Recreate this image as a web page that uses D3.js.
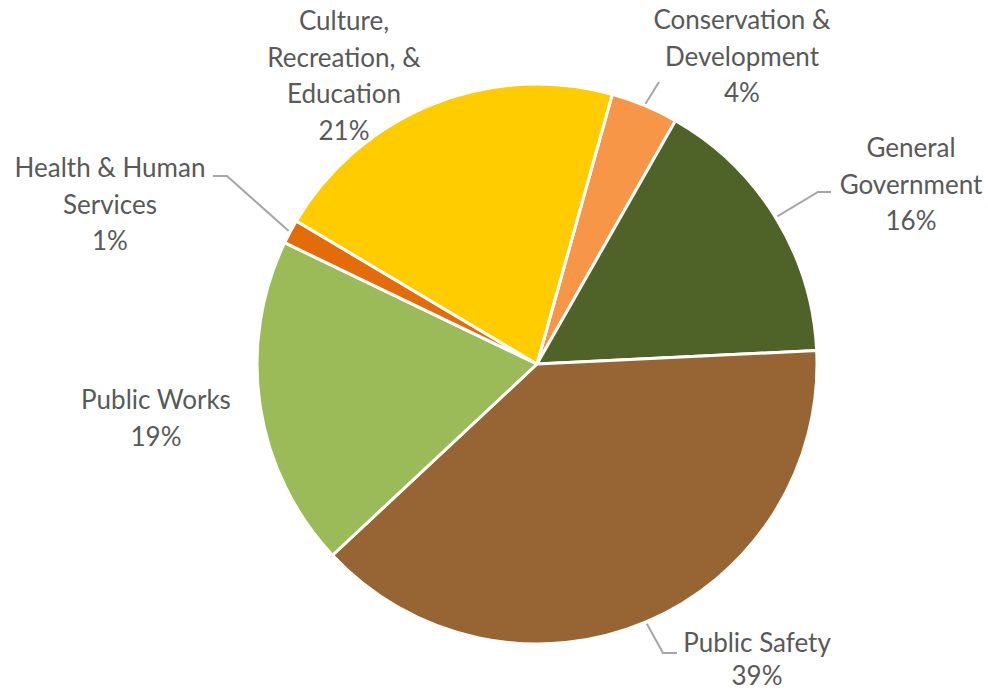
<!DOCTYPE html>
<html>
<head>
<meta charset="utf-8">
<script src="https://cdn.jsdelivr.net/npm/d3@7"></script>
<style>
  body { margin: 0; background: #fff; }
  svg { display: block; }
  .lbl { font-family: Lato, "Open Sans", sans-serif; fill: #595959; }
</style>
</head>
<body>
<div id="chart"></div>
<script>
// slices, clockwise from the Conservation slice
var categories = ['Conservation & Development', 'General Government', 'Public Safety',
                  'Public Works', 'Health & Human Services', 'Culture, Recreation, & Education'];
var values = [3.9, 16.0, 38.8, 19.1, 1.4, 20.8];
var labelLines = [
  ['Conservation &', 'Development'],
  ['General', 'Government'],
  ['Public Safety'],
  ['Public Works'],
  ['Health & Human', 'Services'],
  ['Culture,', 'Recreation, &', 'Education']
];
var colors = ['#F79646', '#4F6228', '#976434', '#9BBB59', '#E36C09', '#FFCC00'];

var width = 988,
    height = 693,
    cx = 537,
    cy = 364,
    radius = 280,
    startDeg = 15.6,
    lineStep = 36.5,
    fontSize = 26;

// label placement: centre x, first line y, leader elbow/end (null = no leader)
var labelLayout = [
  { x: 742, y: 20,  step: lineStep, leader: [[659, 82]] },
  { x: 911, y: 148, step: lineStep, leader: [[818, 192], [831, 192]] },
  { x: 757, y: 643, step: 33, leader: [[663, 653], [677, 653]] },
  { x: 156, y: 400, step: lineStep, leader: null },
  { x: 110, y: 168, step: lineStep, leader: [[227, 176], [213, 176]] },
  { x: 344, y: 21,  step: lineStep, leader: null }
];

var total = d3.sum(values);

var svg = d3.select('#chart').append('svg')
  .attr('width', width)
  .attr('height', height);

var pie = d3.pie()
  .sort(null)
  .value(function(d) { return d; })
  .startAngle(startDeg * Math.PI / 180)
  .endAngle(startDeg * Math.PI / 180 + 2 * Math.PI);

var arc = d3.arc().innerRadius(0).outerRadius(radius);

var arcs = pie(values);

var g = svg.append('g').attr('transform', 'translate(' + cx + ',' + cy + ')');

g.selectAll('path')
  .data(arcs)
  .enter()
  .append('path')
  .attr('d', arc)
  .attr('fill', function(d, i) { return colors[i]; })
  .attr('stroke', '#fff')
  .attr('stroke-width', 3)
  .attr('stroke-linejoin', 'round');

// leader lines
arcs.forEach(function(d, i) {
  var lay = labelLayout[i];
  if (!lay.leader) return;
  var mid = (d.startAngle + d.endAngle) / 2;
  var r = radius + 2;
  var pts = [[cx + r * Math.sin(mid), cy - r * Math.cos(mid)]].concat(lay.leader);
  svg.append('path')
    .attr('d', d3.line()(pts))
    .attr('fill', 'none')
    .attr('stroke', '#A6A6A6')
    .attr('stroke-width', 2);
});

// labels
arcs.forEach(function(d, i) {
  var lay = labelLayout[i];
  var lines = labelLines[i].concat([Math.round(values[i] / total * 100) + '%']);
  var t = svg.append('text')
    .attr('class', 'lbl')
    .attr('text-anchor', 'middle')
    .attr('font-size', fontSize);
  lines.forEach(function(s, k) {
    t.append('tspan')
      .attr('x', lay.x)
      .attr('y', lay.y + k * lay.step)
      .attr('dy', '0.35em')
      .text(s);
  });
});
</script>
</body>
</html>
